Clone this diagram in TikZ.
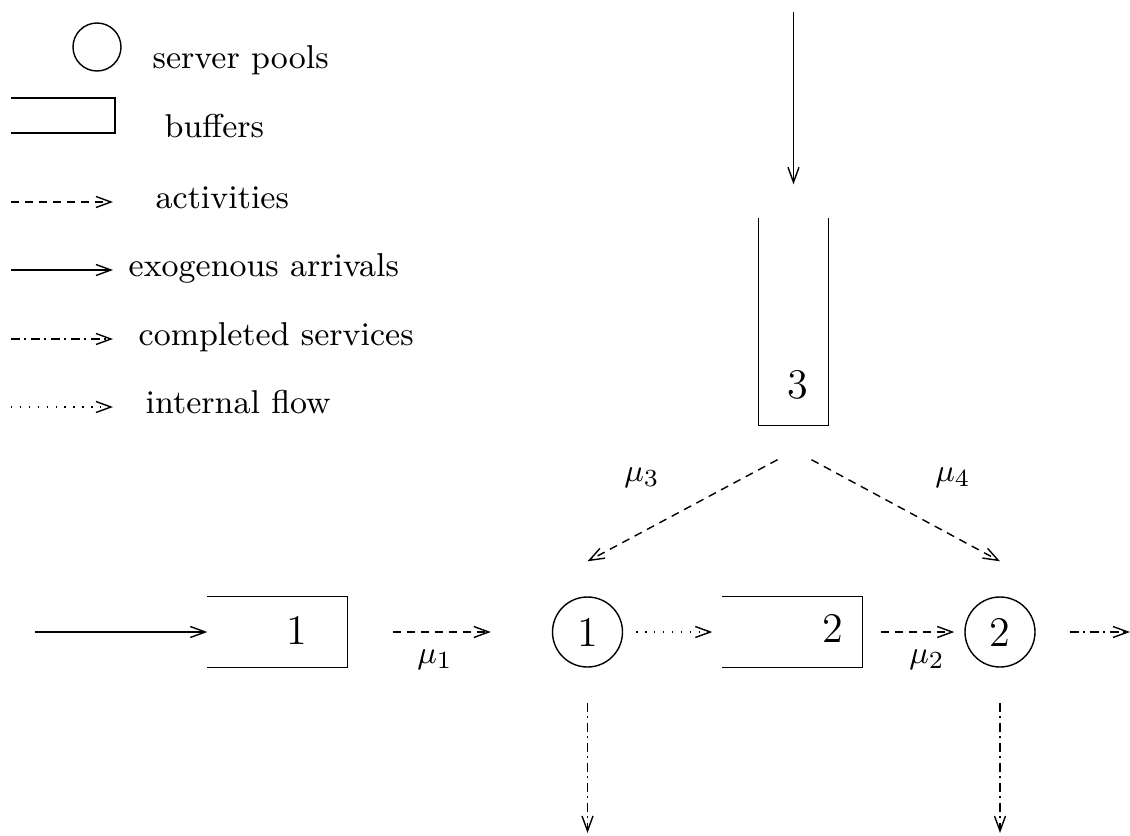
\documentclass[tikz,border=0pt]{standalone}
\usepackage{amsmath}
\usepackage{amssymb}
\usetikzlibrary{arrows.meta}

\begin{document}
\begin{tikzpicture}[x=0.1mm,y=-0.1mm,font=\fontsize{9.4}{11}\selectfont,
    >={Straight Barb[length=1.5mm,width=1.1mm]},
    pool/.style={circle,draw,inner sep=0pt,minimum size=7mm},
    buffer/.style={inner sep=0pt,minimum width=13.9mm,minimum height=7mm},
    legtext/.style={anchor=base west,inner sep=0pt},
    activity/.style={->,dash pattern=on 0.8mm off 0.6mm},
    arrival/.style={->},
    completed/.style={->,dash pattern=on 0.9mm off 0.45mm on 0.2mm off 0.45mm},
    internal/.style={->,dash pattern=on 0.4pt off 0.75mm}]
            \useasboundingbox (0,0) rectangle (1130,836);
            % legend
            \node[pool,minimum size=4.8mm] (lpool) at (97,47) {};
            \node[legtext] (tpool) at (152,68) {server pools};
            \draw (11,98) -- (115,98) -- (115,133) -- (11,133);
            \node[legtext] (tbuf) at (164,137) {buffers};
            \foreach \y/\s/\t/\x in {202/activity/activities/155,270/arrival/exogenous arrivals/128,
                339/completed/completed services/138,407/internal/internal flow/145}{
              \draw[\s] (11,\y) -- (113,\y);
              \node[legtext] at (\x,\y+6) {\t};
            }
            % buffers and server pools
            \node[buffer] (b1) at (277.5,632) {};
            \node[buffer] (b2) at (792.5,632) {};
            \node[buffer,minimum width=6.9mm,minimum height=20.6mm] (b3) at (793.5,322) {};
            \foreach \b in {b1,b2}
              \draw (\b.north west) -- (\b.north east) -- (\b.south east) -- (\b.south west);
            \draw (b3.north west) -- (b3.south west) -- (b3.south east) -- (b3.north east);
            \node (n1) at (297,630) {\large 1};
            \node (n2) at (833,628) {\large 2};
            \node (n3) at (798,385) {\large 3};
            \node[pool] (p1) at (587.5,632) {\large 1};
            \node[pool] (p2) at (1000,632) {\large 2};
            % flows
            \coordinate (in1) at (35,632);
            \coordinate (in3) at (793.5,12);
            \coordinate (out2) at (1130,632);
            \coordinate (d1) at (587.5,833);
            \coordinate (d2) at (1000,833);
            \draw[arrival] (in1) -- (b1.west);
            \draw[arrival,shorten >=3.4mm] (in3) -- (b3.north);
            \draw[activity,shorten <=4.5mm,shorten >=6.1mm] (b1.east) -- (p1.west);
            \draw[internal,shorten <=1.3mm,shorten >=1mm] (p1.east) -- (b2.west);
            \draw[activity,shorten <=1.8mm,shorten >=1mm] (b2.east) -- (p2.west);
            \draw[completed,shorten <=3.4mm] (p2.east) -- (out2);
            \draw[completed,shorten <=3.5mm] (p1.south) -- (d1);
            \draw[completed,shorten <=3.5mm] (p2.south) -- (d2);
            \draw[activity] ([xshift=-1.6mm,yshift=-3.4mm]b3.south) -- ([yshift=3.5mm]p1.north);
            \draw[activity] ([xshift=1.8mm,yshift=-3.4mm]b3.south) -- ([yshift=3.5mm]p2.north);
            \node (m1) at (435,660) {$\mu_1$};
            \node (m2) at (927,660) {$\mu_2$};
            \node (m3) at (642,478) {$\mu_3$};
            \node (m4) at (953,478) {$\mu_4$};
          \end{tikzpicture}
\end{document}
